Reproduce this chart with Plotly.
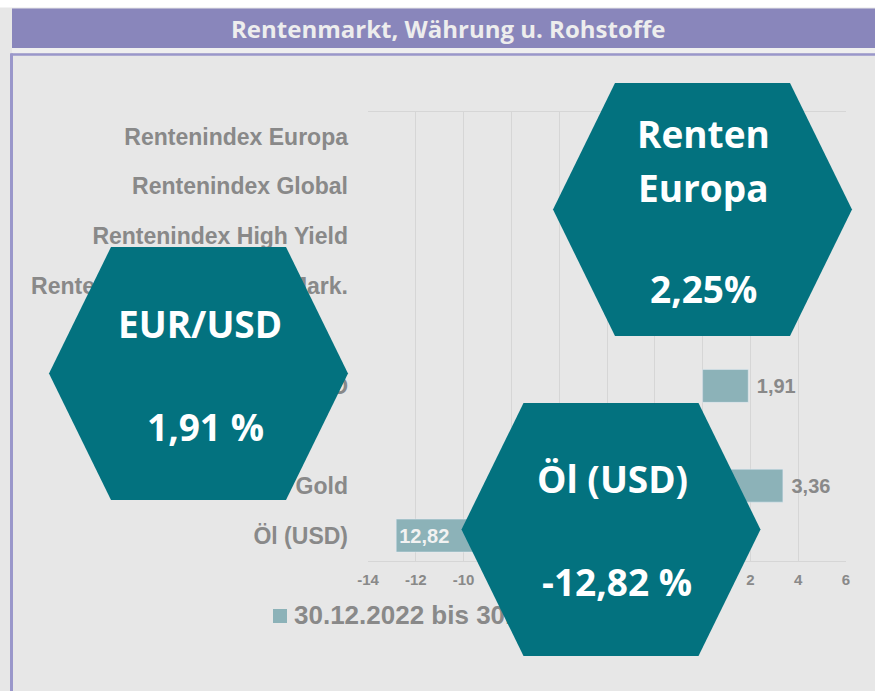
import plotly.graph_objects as go

W, H = 875, 691

# ---------------- data ----------------
categories = ["Rentenindex Europa", "Rentenindex Global", "Rentenindex High Yield",
              "Rentenindex Emerging Mark.", " ", "EUR/USD", "  ", "Gold", "Öl (USD)"]
values = [2.25, 1.50, 3.20, 2.00, None, 1.91, None, 3.36, -12.82]
series_name = "30.12.2022 bis 30.06.2023"
x_ticks = [-14, -12, -10, -8, -6, -4, -2, 0, 2, 4, 6]
x_tick_labels = [str(t) for t in x_ticks]
title_text = "Rentenmarkt, Währung u. Rohstoffe"
hex_right_lines = ["Renten", "Europa", "2,25%"]
hex_left_lines = ["EUR/USD", "1,91 %"]
hex_bottom_lines = ["Öl (USD)", "-12,82 %"]

# ---------------- styles ----------------
BAR = "#8CB2B8"
GREY_TXT = "#898989"
HEX = "#03727F"
PANEL = "#E7E7E7"
PURPLE = "#8986BB"
BORDER = "#9A97CA"
HEXFONT = "'Open Sans', Lato, sans-serif"
ARIAL = "'Liberation Sans', Arial, sans-serif"


def px(x):
    return x / W


def py(y):
    return 1 - y / H


def fmt(v):
    return f"{abs(v):.2f}".replace(".", ",")


positions = ["inside" if (v is not None and v < 0) else "outside" for v in values]
labels = ["" if v is None else ((" " + fmt(v)) if p == "outside" else fmt(v))
          for v, p in zip(values, positions)]
tcolors = ["#F2F2F2" if p == "inside" else GREY_TXT for p in positions]

fig = go.Figure()
fig.add_trace(go.Bar(
    y=categories, x=values, orientation="h", name=series_name,
    marker=dict(color=BAR), text=labels, textposition=positions,
    insidetextanchor="end", constraintext="none", cliponaxis=False,
    textfont=dict(family=ARIAL, size=20, color=tcolors, weight="bold"),
    showlegend=False, hoverinfo="skip",
))

# legend drawn on a full-figure overlay axis (so the hexagon can cover it)
fig.add_trace(go.Scatter(
    x=[280], y=[616], xaxis="x2", yaxis="y2", mode="markers",
    marker=dict(symbol="square", size=14, color=BAR),
    showlegend=False, hoverinfo="skip", cliponaxis=False,
))
fig.add_trace(go.Scatter(
    x=[294], y=[617], xaxis="x2", yaxis="y2", mode="text",
    text=[series_name], textposition="middle right",
    textfont=dict(family=ARIAL, size=26, color=GREY_TXT, weight="bold"),
    showlegend=False, hoverinfo="skip", cliponaxis=False,
))

shapes = []
shapes.append(dict(type="rect", xref="paper", yref="paper", x0=0, x1=1, y0=py(7.5), y1=1,
                   fillcolor="white", line=dict(width=0), layer="below"))
shapes.append(dict(type="rect", xref="paper", yref="paper", x0=px(12), x1=1, y0=py(48), y1=py(8.5),
                   fillcolor=PURPLE, line=dict(width=0), layer="below"))
shapes.append(dict(type="rect", xref="paper", yref="paper", x0=px(12), x1=1, y0=py(53), y1=py(48),
                   fillcolor="#EFEFEF", line=dict(width=0), layer="below"))
shapes.append(dict(type="line", xref="paper", yref="paper", x0=px(10.5), x1=1, y0=py(54.5), y1=py(54.5),
                   line=dict(color=BORDER, width=2.5), layer="below"))
shapes.append(dict(type="line", xref="paper", yref="paper", x0=px(11.5), x1=px(11.5), y0=0, y1=py(53.5),
                   line=dict(color=BORDER, width=3), layer="below"))


def hexagon(cx, cy, hw=149.5, hh=126.5, fh=87.5):
    pts = [(cx - fh, cy - hh), (cx + fh, cy - hh), (cx + hw, cy), (cx + fh, cy + hh),
           (cx - fh, cy + hh), (cx - hw, cy)]
    path = "M " + " L ".join(f"{px(x):.5f},{py(y):.5f}" for x, y in pts) + " Z"
    return dict(type="path", xref="paper", yref="paper", path=path,
                fillcolor=HEX, line=dict(width=0), layer="above")


shapes.append(hexagon(702.5, 209.5))
shapes.append(hexagon(198.5, 373.5))
shapes.append(hexagon(611, 529.5))

annotations = [dict(text=title_text, xref="paper", yref="paper", x=px(448), y=py(28),
                    xanchor="center", yanchor="middle", showarrow=False,
                    font=dict(family=HEXFONT, size=24, color="#EDEDED", weight="bold"))]


def hex_text(t, x, y, size=37):
    return dict(text=t, xref="paper", yref="paper", x=px(x), y=py(y), xanchor="center",
                yanchor="middle", showarrow=False,
                font=dict(family=HEXFONT, size=size, color="white", weight="bold"))


annotations += [hex_text(hex_right_lines[0], 703, 134), hex_text(hex_right_lines[1], 703, 187),
                hex_text(hex_right_lines[2], 703, 288)]
annotations += [hex_text(hex_left_lines[0], 200, 324), hex_text(hex_left_lines[1], 205, 426)]
annotations += [hex_text(hex_bottom_lines[0], 612, 478), hex_text(hex_bottom_lines[1], 617, 581)]

fig.update_layout(
    width=W, height=H, margin=dict(l=0, r=0, t=0, b=0, autoexpand=False), autosize=False,
    paper_bgcolor=PANEL, plot_bgcolor="rgba(0,0,0,0)",
    bargap=0.34, showlegend=False,
    xaxis=dict(domain=[px(368), px(846)], range=[-14, 6], tickvals=x_ticks, ticktext=x_tick_labels,
               showgrid=True, gridcolor="#D6D6D6", gridwidth=1, zeroline=False,
               showline=True, mirror=True, linecolor="#D6D6D6", linewidth=1,
               ticks="", ticklabelstandoff=5, anchor="y", automargin=False,
               tickfont=dict(family=ARIAL, size=15, color=GREY_TXT, weight="bold")),
    yaxis=dict(domain=[py(560.5), py(111.5)], categoryorder="array", categoryarray=categories,
               autorange="reversed", showgrid=False, zeroline=False, showline=False,
               ticks="", ticklabelstandoff=19, anchor="x", automargin=False,
               tickfont=dict(family=ARIAL, size=23, color=GREY_TXT, weight="bold")),
    xaxis2=dict(domain=[0, 1], range=[0, W], visible=False, anchor="y2", fixedrange=True),
    yaxis2=dict(domain=[0, 1], range=[H, 0], visible=False, anchor="x2", fixedrange=True),
    shapes=shapes, annotations=annotations,
)

fig.write_html(
    "out.html",
    config={"displayModeBar": False},
    post_script="document.body.style.margin='0';document.body.style.overflow='hidden';",
)
